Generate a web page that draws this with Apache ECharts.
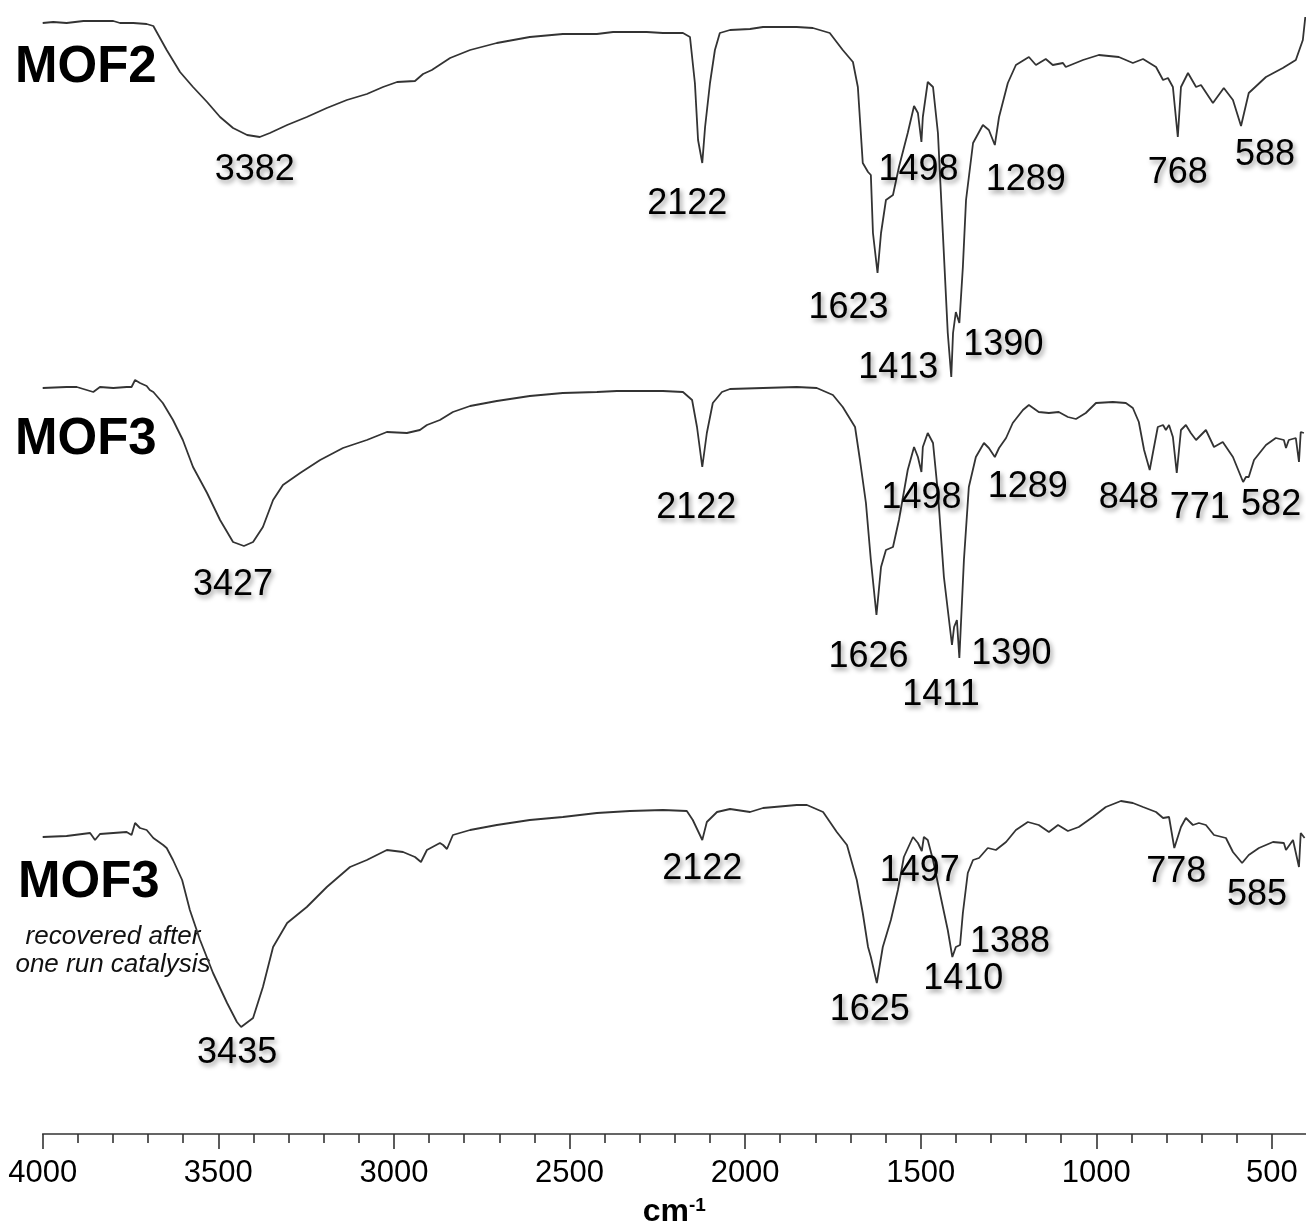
<!DOCTYPE html>
<html>
<head>
<meta charset="utf-8">
<title>FT-IR spectra</title>
<script src="https://cdn.jsdelivr.net/npm/echarts@6/dist/echarts.min.js"></script>
<style>
  html, body { margin: 0; padding: 0; background: #ffffff; }
  #chart { width: 1306px; height: 1224px; }
</style>
</head>
<body>
<div id="chart"></div>
<script>
// FT-IR spectra, [wavenumber (cm-1), transmittance (a.u., traces stacked)]
const mof2 = [
  [4000,111.1],[3970,111.2],[3932,111.1],[3884,111.3],[3799,111.3],[3780,111.1],[3742,111.1],[3704,111.0],
  [3685,110.8],[3680,110.6],[3647,108.4],[3609,106.2],[3572,104.7],[3532,103.2],[3495,101.7],[3458,100.6],
  [3418,99.9],[3382,99.7],[3353,100.1],[3304,100.9],[3248,101.7],[3191,102.6],[3134,103.4],[3077,104.0],
  [3031,104.7],[2991,105.2],[2940,105.3],[2917,106.0],[2892,106.4],[2840,107.6],[2783,108.4],[2707,109.1],
  [2613,109.7],[2519,110.0],[2422,110.0],[2376,110.2],[2280,110.2],[2234,110.1],[2177,110.1],[2157,109.7],
  [2143,105.1],[2134,99.4],[2122,97.1],[2114,100.7],[2100,105.1],[2086,108.4],[2072,110.1],[2043,110.4],
  [1986,110.5],[1949,110.7],[1853,110.7],[1807,110.6],[1759,110.1],[1722,108.4],[1693,107.2],[1679,104.7],
  [1665,97.1],[1650,96.2],[1642,95.9],[1636,90.1],[1623,86.1],[1613,90.1],[1599,93.4],[1579,93.9],
  [1562,96.7],[1537,100.1],[1519,102.8],[1508,102.1],[1498,99.2],[1494,101.7],[1480,105.2],[1465,104.7],
  [1451,100.1],[1437,90.1],[1423,80.1],[1413,75.7],[1408,80.1],[1400,82.2],[1390,81.1],[1380,86.7],
  [1371,93.4],[1351,99.1],[1323,100.9],[1306,100.4],[1289,98.9],[1277,101.7],[1252,105.1],[1229,106.9],
  [1192,107.7],[1172,106.9],[1144,107.5],[1124,106.9],[1095,107.1],[1087,106.7],[1038,107.4],[993,107.9],
  [936,107.7],[896,107.1],[867,107.5],[830,106.7],[810,105.4],[796,105.6],[782,104.7],[768,99.7],
  [759,104.7],[739,106.1],[716,104.7],[702,104.9],[668,103.1],[637,104.6],[611,103.4],[588,100.8],
  [566,104.1],[517,105.7],[469,106.6],[432,107.4],[412,109.4],[405,111.7]
];

const mof3 = [
  [4000,74.6],[3932,74.7],[3903,74.7],[3856,74.2],[3837,74.7],[3799,74.6],[3761,74.7],[3747,74.7],
  [3737,75.4],[3723,75.1],[3704,74.8],[3695,74.4],[3685,74.2],[3658,73.1],[3629,71.4],[3601,69.4],
  [3572,66.7],[3532,64.1],[3495,61.4],[3458,59.2],[3427,58.8],[3401,59.2],[3373,60.7],[3344,63.4],
  [3316,64.9],[3267,66.1],[3210,67.4],[3145,68.6],[3077,69.4],[3020,70.2],[2963,70.1],[2926,70.4],
  [2906,70.9],[2869,71.4],[2832,72.2],[2783,72.8],[2707,73.3],[2613,73.8],[2519,74.1],[2422,74.2],
  [2365,74.3],[2234,74.3],[2177,74.2],[2151,73.4],[2137,70.7],[2122,66.7],[2109,70.1],[2092,73.1],
  [2066,74.2],[2043,74.5],[1949,74.6],[1853,74.7],[1796,74.6],[1750,73.9],[1722,72.7],[1687,70.7],
  [1673,67.4],[1656,63.1],[1642,57.4],[1626,51.9],[1613,56.7],[1599,58.4],[1579,58.7],[1562,61.4],
  [1537,66.4],[1519,68.7],[1508,67.7],[1498,66.2],[1494,68.7],[1480,70.1],[1465,69.1],[1451,64.1],
  [1434,55.7],[1411,48.9],[1405,50.7],[1397,51.4],[1390,47.6],[1377,57.4],[1363,64.7],[1343,67.7],
  [1320,69.1],[1306,68.6],[1289,67.7],[1277,68.6],[1257,69.6],[1238,71.1],[1209,72.4],[1192,72.9],
  [1164,72.2],[1135,72.1],[1107,72.2],[1081,71.7],[1058,71.5],[1030,72.1],[1001,73.1],[953,73.2],
  [916,73.1],[896,72.6],[879,71.2],[864,68.4],[848,66.4],[839,68.1],[825,70.7],[810,70.9],
  [802,70.4],[793,70.9],[782,69.7],[771,66.1],[759,70.4],[745,70.9],[731,70.1],[716,69.4],
  [688,70.4],[665,68.7],[640,69.2],[611,67.7],[582,65.2],[574,65.7],[566,65.7],[551,67.4],
  [517,68.9],[489,69.6],[466,69.4],[460,68.6],[452,69.4],[432,69.6],[423,67.2],[418,70.2],[409,70.1]
];

const mof3Recovered = [
  [4000,29.7],[3932,29.8],[3865,30.1],[3851,29.4],[3837,30.0],[3799,30.1],[3761,30.2],[3747,29.9],
  [3737,31.1],[3723,30.6],[3704,30.4],[3685,29.6],[3657,28.9],[3647,28.6],[3629,27.4],[3603,25.4],
  [3581,22.4],[3552,19.4],[3515,16.1],[3475,13.1],[3447,11.2],[3435,10.7],[3401,11.6],[3373,14.7],
  [3344,18.7],[3304,21.1],[3248,22.7],[3191,24.7],[3125,26.7],[3077,27.4],[3020,28.4],[2974,28.2],
  [2940,27.7],[2923,27.2],[2906,28.4],[2869,29.1],[2860,28.9],[2849,28.5],[2832,29.9],[2783,30.4],
  [2707,30.9],[2613,31.4],[2519,31.7],[2422,32.1],[2328,32.3],[2234,32.4],[2166,32.3],[2149,31.4],
  [2122,29.4],[2109,31.2],[2080,32.2],[2043,32.5],[1986,32.2],[1949,32.6],[1853,32.9],[1824,32.9],
  [1778,32.2],[1739,30.2],[1710,28.9],[1682,25.4],[1665,22.1],[1650,18.7],[1642,17.7],[1625,15.1],
  [1608,18.7],[1585,21.4],[1565,24.4],[1548,27.7],[1522,29.7],[1508,29.1],[1497,28.3],[1491,29.7],
  [1480,29.4],[1465,27.4],[1443,23.7],[1423,20.4],[1410,17.7],[1400,18.7],[1388,18.9],[1380,22.1],
  [1366,26.1],[1351,27.4],[1334,27.6],[1309,28.6],[1286,28.4],[1257,29.2],[1229,30.4],[1195,31.2],
  [1164,30.9],[1135,30.2],[1109,30.9],[1081,30.3],[1050,30.7],[1010,31.7],[973,32.7],[930,33.3],
  [896,33.1],[867,32.7],[830,32.2],[810,31.6],[793,31.7],[778,28.6],[759,30.7],[745,31.6],
  [725,30.9],[708,31.1],[688,30.9],[665,29.9],[631,29.6],[611,28.2],[585,27.1],[566,27.9],
  [537,28.6],[497,29.2],[466,29.1],[460,28.4],[440,29.4],[423,26.7],[418,30.1],[407,29.6]
];

// Assigned band positions (cm-1) for each trace
const peaksMof2 = [3382, 2122, 1623, 1498, 1413, 1390, 1289, 768, 588];
const peaksMof3 = [3427, 2122, 1626, 1498, 1411, 1390, 1289, 848, 771, 582];
const peaksRecovered = [3435, 2122, 1625, 1497, 1410, 1388, 778, 585];

// Axis ticks
const majorTicks = [4000, 3500, 3000, 2500, 2000, 1500, 1000, 500];
const minorTicks = [3900, 3800, 3700, 3600, 3400, 3300, 3200, 3100, 2900, 2800, 2700, 2600,
  2400, 2300, 2200, 2100, 1900, 1800, 1700, 1600, 1400, 1300, 1200, 1100, 900, 800, 700, 600];

// Label placement (px offsets from the band minimum)
const offsMof2 = [[-5,33],[-15,41],[-29,35],[-3,28],[-53,-9],[44,22],[31,35],[0,36],[24,29]];
const offsMof3 = [[-11,39],[-6,41],[-8,42],[0,26],[-11,50],[52,-4],[33,30],[-21,28],[23,35],[28,23]];
const offsRecovered = [[-4,26],[0,29],[-7,27],[-2,20],[11,22],[50,-3],[2,24],[15,32]];

const FONT = '"Liberation Sans", Arial, sans-serif';
const shadow = { textShadowColor: 'rgba(0,0,0,0.4)', textShadowBlur: 5, textShadowOffsetX: 2, textShadowOffsetY: 3 };

function bandLabels(curve, peaks, offsets) {
  return peaks.map((wn, i) => {
    const pt = curve.find(p => p[0] === wn);
    return {
      value: pt,
      label: { offset: offsets[i] }
    };
  });
}

function spectrum(data) {
  return {
    type: 'line', data: data, showSymbol: false, symbol: 'none', smooth: false,
    lineStyle: { color: '#333333', width: 1.8 }, silent: true, animation: false, z: 2
  };
}

function labelSeries(curve, peaks, offsets) {
  return {
    type: 'scatter', symbolSize: 0, silent: true, animation: false, z: 3,
    itemStyle: { opacity: 1, color: 'transparent' },
    data: bandLabels(curve, peaks, offsets),
    label: {
      show: true, position: 'inside', formatter: p => String(p.value[0]),
      fontFamily: FONT, fontSize: 36, color: '#000', opacity: 1, ...shadow
    }
  };
}

const chart = echarts.init(document.getElementById('chart'), null, { renderer: 'canvas' });

const titleShadow = { shadowColor: 'rgba(0,0,0,0.4)', shadowBlur: 6, shadowOffsetX: 2, shadowOffsetY: 3 };

chart.setOption({
  backgroundColor: '#ffffff',
  animation: false,
  grid: { left: 42.7, right: 0, top: 0, bottom: 90, containLabel: false, outerBoundsMode: 'none' },
  xAxis: [
    {
      type: 'value', min: 403, max: 4000, inverse: true, position: 'bottom',
      axisLine: { show: true, lineStyle: { color: '#333', width: 1.6 } },
      axisTick: { show: true, customValues: majorTicks, length: 15, lineStyle: { color: '#333', width: 1.6 } },
      axisLabel: {
        show: true, customValues: majorTicks, formatter: v => String(v),
        fontFamily: FONT, fontSize: 31, color: '#000', margin: 24
      },
      splitLine: { show: false },
      name: '{u|cm}{s|-1}', nameLocation: 'middle', nameGap: 62,
      nameTextStyle: {
        rich: {
          u: { fontFamily: FONT, fontSize: 32, fontWeight: 'bold', color: '#000', lineHeight: 32 },
          s: { fontFamily: FONT, fontSize: 19, fontWeight: 'bold', color: '#000', verticalAlign: 'top', lineHeight: 19 }
        }
      }
    },
    {
      type: 'value', min: 403, max: 4000, inverse: true, position: 'bottom', gridIndex: 0,
      axisLine: { show: false },
      axisTick: { show: true, customValues: minorTicks, length: 9, lineStyle: { color: '#333', width: 1.6 } },
      axisLabel: { show: false },
      splitLine: { show: false }
    }
  ],
  yAxis: { type: 'value', min: 0, max: 113.4, show: false },
  graphic: [
    { type: 'text', silent: true, style: { x: 15, y: 68, text: 'MOF2', font: 'bold 51px ' + FONT, fill: '#000', verticalAlign: 'middle', ...titleShadow } },
    { type: 'text', silent: true, style: { x: 15, y: 440, text: 'MOF3', font: 'bold 51px ' + FONT, fill: '#000', verticalAlign: 'middle', ...titleShadow } },
    { type: 'text', silent: true, style: { x: 18, y: 883, text: 'MOF3', font: 'bold 51px ' + FONT, fill: '#000', verticalAlign: 'middle', ...titleShadow } },
    { type: 'text', silent: true, style: { x: 113, y: 937, text: 'recovered after', font: 'italic 26px ' + FONT, fill: '#111', align: 'center', verticalAlign: 'middle', ...titleShadow } },
    { type: 'text', silent: true, style: { x: 113, y: 965, text: 'one run catalysis', font: 'italic 26px ' + FONT, fill: '#111', align: 'center', verticalAlign: 'middle', ...titleShadow } }
  ],
  series: [
    spectrum(mof2),
    spectrum(mof3),
    spectrum(mof3Recovered),
    labelSeries(mof2, peaksMof2, offsMof2),
    labelSeries(mof3, peaksMof3, offsMof3),
    labelSeries(mof3Recovered, peaksRecovered, offsRecovered)
  ]
});
</script>
</body>
</html>
